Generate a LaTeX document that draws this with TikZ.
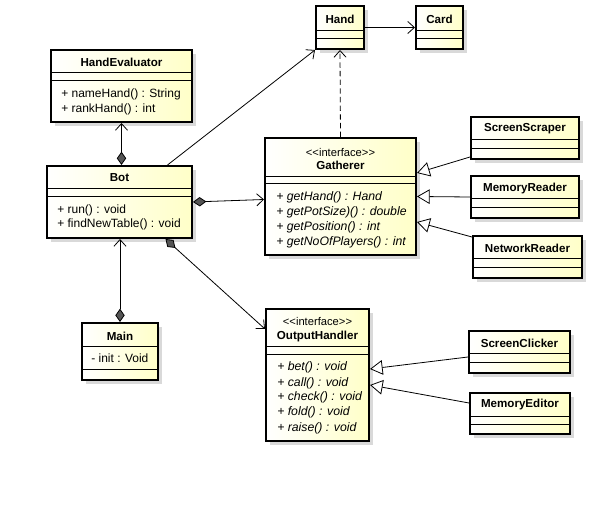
\documentclass[tikz,border=0pt]{standalone}
\usepackage{fontspec}
\setmainfont{Liberation Sans}
\usepackage{xcolor}
\usetikzlibrary{positioning,arrows.meta,calc,fit,shadows}
\definecolor{classyellow}{RGB}{255,255,200}
\definecolor{diamondgray}{RGB}{85,85,85}

\tikzset{
  classbox/.style={draw, line width=1.5pt, inner sep=0pt, left color=white, right color=classyellow,
    general shadow={fill=black!15, shadow xshift=3pt, shadow yshift=-3pt}},
  classname/.style={font=\bfseries\fontsize{8.7}{10}\selectfont, inner sep=0pt},
  stereo/.style={font=\fontsize{8.4}{10}\selectfont, inner sep=0pt},
  member/.style={font=\fontsize{9}{10}\selectfont, inner sep=0pt, anchor=west},
  abstract/.style={member, font=\itshape\fontsize{9.2}{10}\selectfont},
  divider/.style={line width=0.75pt},
  assoc/.style={line width=0.6pt, -{Straight Barb[length=5pt,width=9pt]}},
  composition/.style={line width=0.6pt, {Diamond[fill=diamondgray,length=10pt,width=7pt]}-{Straight Barb[length=5pt,width=9pt]}},
  realize/.style={line width=0.6pt, dash pattern=on 4pt off 2.5pt, -{Straight Barb[length=5pt,width=9pt]}},
  inherit/.style={line width=0.6pt, -{Triangle[open,fill=white,length=9.5pt,width=11pt]}}
}

\begin{document}
\begin{tikzpicture}[x=0.75pt, y=-0.75pt]
\useasboundingbox (0,0) rectangle (601,513);

% class boxes
\node[classbox, fit={(51,50) (192,122)}] (handeval) {};
\node[classbox, fit={(47,166) (192,238)}] (bot) {};
\node[classbox, fit={(82,323) (158,380)}] (main) {};
\node[classbox, fit={(316,6) (364,49)}] (hand) {};
\node[classbox, fit={(416,6) (463,49)}] (card) {};
\node[classbox, fit={(265,138) (416,255)}] (gatherer) {};
\node[classbox, fit={(266,309) (369,441)}] (output) {};
\node[classbox, fit={(471,117) (579,159)}] (scraper) {};
\node[classbox, fit={(471,176) (579,218)}] (memreader) {};
\node[classbox, fit={(473,236) (582,278)}] (netreader) {};
\node[classbox, fit={(469,331) (570,373)}] (clicker) {};
\node[classbox, fit={(470,393) (570,434)}] (memeditor) {};

% compartment lines
\foreach \xa/\xb/\ya/\yb in {51/192/73/81, 47/192/189/197, 82/158/347/370,
    316/364/31/39, 416/463/31/39, 265/416/177/184, 266/369/347/355,
    471/579/140/149, 471/579/199/208, 473/582/259/268, 469/570/354/363, 470/570/417/425}
  \draw[divider] (\xa,\ya) -- (\xb,\ya) (\xa,\yb) -- (\xb,\yb);

% names
\node[classname] (handevalname) at (121.5,62) {HandEvaluator};
\node[classname] (botname) at (119.5,178) {Bot};
\node[classname] (mainname) at (120,336) {Main};
\node[classname] (handname) at (340,19) {Hand};
\node[classname] (cardname) at (439.5,19) {Card};
\node[stereo] (gathererstereo) at (340.5,152) {<{}<interface>{}>};
\node[classname] (gatherername) at (340.5,165) {Gatherer};
\node[stereo] (outputstereo) at (317.5,321) {<{}<interface>{}>};
\node[classname] (outputname) at (317.5,337) {OutputHandler};
\node[classname] (scrapername) at (525,129) {ScreenScraper};
\node[classname] (memreadername) at (525,189) {MemoryReader};
\node[classname] (netreadername) at (527.5,248) {NetworkReader};
\node[classname] (clickername) at (519.5,343) {ScreenClicker};
\node[classname] (memeditorname) at (520,405) {MemoryEditor};

% members
\node[member] (handevalop1) at (61,94) {+ nameHand() : String};
\node[member] (handevalop2) at (61,109) {+ rankHand() : int};
\node[member] (botop1) at (57,210) {+ run() : void};
\node[member] (botop2) at (57,224) {+ findNewTable() : void};
\node[member] (mainattr) at (91,358) {- init : Void};
\foreach \txt [count=\i] in {{+ getHand() : Hand}, {+ getPotSize)() : double},
    {+ getPosition() : int}, {+ getNoOfPlayers() : int}}
  \node[abstract] (gathererop\i) at (276,182+15*\i) {\txt};
\foreach \txt/\yy [count=\i] in {{+ bet() : void}/367, {+ call() : void}/383,
    {+ check() : void}/397, {+ fold() : void}/412, {+ raise() : void}/428}
  \node[abstract] (outputop\i) at (277,\yy) {\txt};

% connectors
\draw[composition] (bot.north -| handeval.south) -- (handeval.south);
\draw[composition] (main.north) -- (main.north |- bot.south);
\draw[composition] (bot.east) -- ($(gatherer.west)+(0,3)$);
\draw[composition] ($(bot.south)+(46,0)$) -- ($(output.north west)+(0,21)$);
\draw[assoc] ($(bot.north)+(48,0)$) -- (hand.south west);
\draw[assoc] (hand.east) -- (card.west);
\draw[realize] (gatherer.north) -- (hand.south);
\draw[inherit] ($(scraper.south west)+(0,-3)$) -- ($(gatherer.east)+(0,-23.5)$);
\draw[inherit] (memreader.west) -- (gatherer.east);
\draw[inherit] ($(netreader.north west)+(0,2)$) -- ($(gatherer.east)+(0,25.5)$);
\draw[inherit] ($(clicker.west)+(0,5)$) -- ($(output.east)+(0,-6)$);
\draw[inherit] ($(memeditor.west)+(0,-10.5)$) -- ($(output.east)+(0,10)$);
\end{tikzpicture}
\end{document}
